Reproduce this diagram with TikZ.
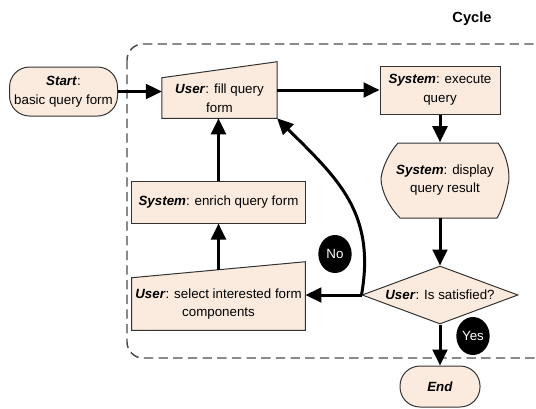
\documentclass[tikz,border=0pt]{standalone}
\usepackage{fontspec}
\setmainfont{Liberation Sans}
\usepackage{tikz}
\usetikzlibrary{shapes,arrows.meta,positioning,backgrounds}
\usepackage{xcolor}
\definecolor{boxfill}{RGB}{251,235,222}

\begin{document}
\begin{tikzpicture}[x=0.75pt, y=-0.75pt,
        every node/.style={font=\fontsize{10}{14}\selectfont, align=center},
        mybox/.style={rectangle, draw=black!80, fill=boxfill, line width=0.75pt, inner sep=0pt},
        myterm/.style={rectangle, rounded corners=15pt, draw=black!80, fill=boxfill, line width=0.75pt, inner sep=0pt},
        mytext/.style={draw=none, inner sep=0pt},
        tag/.style={ellipse, fill=black, text=white, inner sep=0pt, minimum width=25pt, minimum height=28.5pt}
    ]

    %styles
    \tikzstyle{shapeline}=[draw=black!80, fill=boxfill, line width=0.75pt]
    \tikzstyle{cyclebox}=[draw=black!70, dash pattern=on 7pt off 4pt, line width=1.1pt, rounded corners=12pt]
    \tikzstyle{flow}=[-{Triangle[length=12pt,width=11pt]}, line width=2.25pt]

    \useasboundingbox (0,0) rectangle (536,408);
    \clip (0,0) rectangle (536,408);

    %nodes
    \node[font=\fontsize{11}{13}\selectfont\bfseries] (cycle) at (472,19) {Cycle};
    \node[myterm, minimum width=81pt, minimum height=36.75pt] (start) at (63.5,91.5) {\textbf{\textit{Start}}:\\basic query form};
    \node[mytext, minimum width=86pt, minimum height=30pt] (fill) at (219.5,98) {\textbf{\textit{User}}: fill query\\form};
    \node[mybox, minimum width=90pt, minimum height=36pt] (exec) at (440,90) {\textbf{\textit{System}}: execute\\query};
    \node[mytext, minimum width=90pt, minimum height=56.25pt] (disp) at (445,180) {\textbf{\textit{System}}: display\\query result};
    \node[diamond, draw=black!80, fill=boxfill, line width=0.75pt, inner sep=0pt, aspect=2.7, minimum width=117pt, minimum height=43.5pt] (sat) at (440,295) {\textbf{\textit{User}}: Is satisfied?};
    \node[myterm, minimum width=60pt, minimum height=30.75pt] (end) at (440,386.5) {\textbf{\textit{End}}};
    \node[mybox, minimum width=131pt, minimum height=31.5pt] (enrich) at (218.5,202) {\textbf{\textit{System}}: enrich query form};
    \node[mytext, minimum width=130pt, minimum height=39pt] (select) at (218.5,304) {\textbf{\textit{User}}: select interested form\\components};
    \node[tag] (no) at (335,254) {No};
    \node[tag] (yes) at (473,336) {Yes};

    %shapes
    \begin{pgfonlayer}{background}
        \draw[cyclebox] (127,44) rectangle (570,358);
        \draw[shapeline] (fill.south west) -- (fill.south east) -- ([yshift=12pt]fill.north east) -- (fill.north west) -- cycle;
        \draw[shapeline] (select.south west) -- (select.south east) -- ([yshift=12pt]select.north east) -- (select.north west) -- cycle;
        \begin{scope}[shift={(disp.center)}]
            \draw[shapeline] (-47,-37) -- (53,-37) .. controls (62,-25) and (66,-5) .. (63,5)
                .. controls (60,20) and (56,32) .. (52,38) -- (-45,38)
                .. controls (-55,28) and (-64,12) .. (-64,-2)
                .. controls (-62,-15) and (-55,-28) .. (-47,-37) -- cycle;
        \end{scope}
    \end{pgfonlayer}

    %arrows
    \draw[flow] (start.east) -- (start.east -| fill.west);
    \draw[flow] (exec.west -| fill.east) -- (exec.west);
    \draw[flow] (exec.south) -- (exec.south |- disp.north);
    \draw[flow] (exec.south |- disp.south) -- (sat.north);
    \draw[flow] (sat.south) -- (end.north);
    \draw[flow] (sat.west) -- (sat.west -| select.east);
    \draw[flow] (sat.west) to[out=80, in=-45, looseness=1.1] (fill.south east);
    \draw[flow] ([yshift=6pt]select.north) -- (enrich.south);
    \draw[flow] (enrich.north) -- (enrich.north |- fill.south);

\end{tikzpicture}
\end{document}
